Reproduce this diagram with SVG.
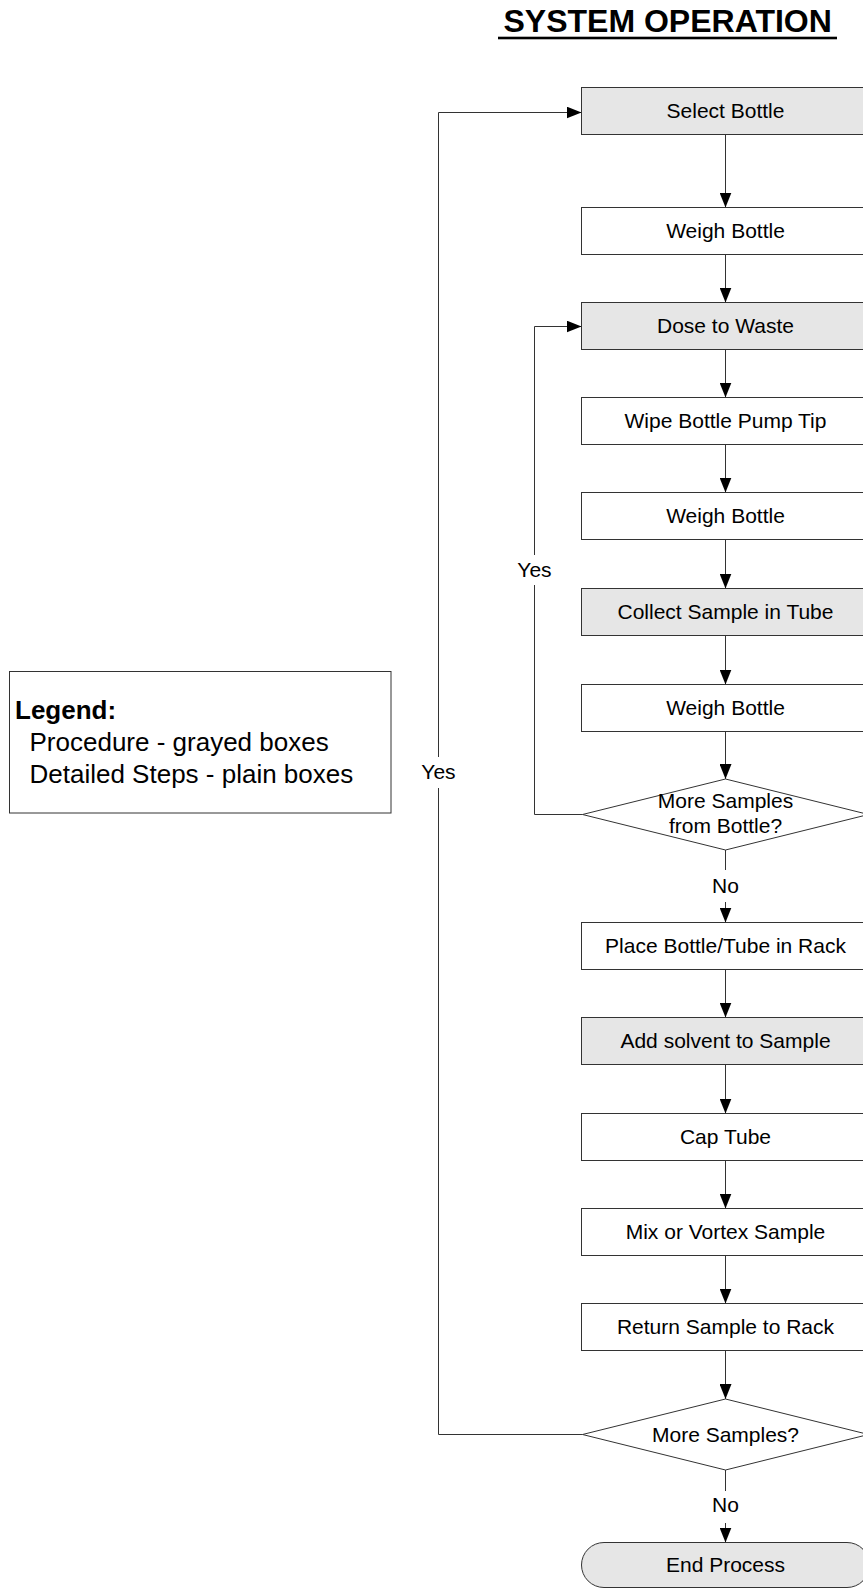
<svg xmlns="http://www.w3.org/2000/svg" width="863" height="1589" viewBox="0 0 863 1589">
<style>
text{font-family:"Liberation Sans",Arial,sans-serif;fill:#000}
.t{font-size:21px;text-anchor:middle}
.box{stroke:#333;stroke-width:1;fill:#fff}
.proc{fill:#e6e6e6}
.c{fill:none;stroke:#333;stroke-width:1}
.lg{font-size:26px}
</style>
<defs>
<marker id="ah" markerUnits="userSpaceOnUse" markerWidth="15" markerHeight="12" refX="15" refY="6" orient="auto">
<path d="M0,0 L15,6 L0,12 z" fill="#000"/>
</marker>
</defs>
<rect width="863" height="1589" fill="#fff"/>
<g id="title">
<text x="503.5" y="32" font-size="32" font-weight="bold">SYSTEM OPERATION</text>
<rect x="498" y="36.7" width="339" height="2.6" fill="#000"/>
</g>
<g id="legend">
<rect x="9.5" y="671.5" width="381.5" height="141.5" fill="#fff" stroke="#333"/>
<text class="lg" x="15" y="719" font-weight="bold">Legend:</text>
<text class="lg" x="29.5" y="751">Procedure - grayed boxes</text>
<text class="lg" x="29.5" y="783">Detailed Steps - plain boxes</text>
</g>
<g id="connectors">
<line class="c" x1="725.5" y1="134.5" x2="725.5" y2="207.5" marker-end="url(#ah)"/>
<line class="c" x1="725.5" y1="254.5" x2="725.5" y2="302.5" marker-end="url(#ah)"/>
<line class="c" x1="725.5" y1="349.5" x2="725.5" y2="397.5" marker-end="url(#ah)"/>
<line class="c" x1="725.5" y1="444.5" x2="725.5" y2="492.5" marker-end="url(#ah)"/>
<line class="c" x1="725.5" y1="539.5" x2="725.5" y2="588.5" marker-end="url(#ah)"/>
<line class="c" x1="725.5" y1="635.5" x2="725.5" y2="684.5" marker-end="url(#ah)"/>
<line class="c" x1="725.5" y1="731.5" x2="725.5" y2="779" marker-end="url(#ah)"/>
<line class="c" x1="725.5" y1="850" x2="725.5" y2="870"/>
<line class="c" x1="725.5" y1="902" x2="725.5" y2="922.5" marker-end="url(#ah)"/>
<line class="c" x1="725.5" y1="969.5" x2="725.5" y2="1017.5" marker-end="url(#ah)"/>
<line class="c" x1="725.5" y1="1064.5" x2="725.5" y2="1113.5" marker-end="url(#ah)"/>
<line class="c" x1="725.5" y1="1160.5" x2="725.5" y2="1208.5" marker-end="url(#ah)"/>
<line class="c" x1="725.5" y1="1255.5" x2="725.5" y2="1303.5" marker-end="url(#ah)"/>
<line class="c" x1="725.5" y1="1350.5" x2="725.5" y2="1399" marker-end="url(#ah)"/>
<line class="c" x1="725.5" y1="1470" x2="725.5" y2="1491"/>
<line class="c" x1="725.5" y1="1523" x2="725.5" y2="1542.5" marker-end="url(#ah)"/>
<polyline class="c" points="582.5,814.5 534.5,814.5 534.5,585"/>
<polyline class="c" points="534.5,555 534.5,326.5 581.5,326.5" marker-end="url(#ah)"/>
<polyline class="c" points="582.5,1434.5 438.5,1434.5 438.5,788"/>
<polyline class="c" points="438.5,757 438.5,112.5 581.5,112.5" marker-end="url(#ah)"/>
<text class="t" x="534.5" y="577">Yes</text>
<text class="t" x="438.5" y="779">Yes</text>
<text class="t" x="725.5" y="893">No</text>
<text class="t" x="725.5" y="1512">No</text>
</g>
<g id="n1"><rect class="box proc" x="581.5" y="87.5" width="288" height="47"/><text class="t" x="725.5" y="118">Select Bottle</text></g>
<g id="n2"><rect class="box" x="581.5" y="207.5" width="288" height="47"/><text class="t" x="725.5" y="238">Weigh Bottle</text></g>
<g id="n3"><rect class="box proc" x="581.5" y="302.5" width="288" height="47"/><text class="t" x="725.5" y="333">Dose to Waste</text></g>
<g id="n4"><rect class="box" x="581.5" y="397.5" width="288" height="47"/><text class="t" x="725.5" y="428">Wipe Bottle Pump Tip</text></g>
<g id="n5"><rect class="box" x="581.5" y="492.5" width="288" height="47"/><text class="t" x="725.5" y="523">Weigh Bottle</text></g>
<g id="n6"><rect class="box proc" x="581.5" y="588.5" width="288" height="47"/><text class="t" x="725.5" y="619">Collect Sample in Tube</text></g>
<g id="n7"><rect class="box" x="581.5" y="684.5" width="288" height="47"/><text class="t" x="725.5" y="715">Weigh Bottle</text></g>
<g id="d1"><polygon class="box" points="582.5,814.5 725.5,779 868.5,814.5 725.5,850"/><text class="t" x="725.5" y="808">More Samples</text><text class="t" x="725.5" y="833">from Bottle?</text></g>
<g id="n8"><rect class="box" x="581.5" y="922.5" width="288" height="47"/><text class="t" x="725.5" y="953">Place Bottle/Tube in Rack</text></g>
<g id="n9"><rect class="box proc" x="581.5" y="1017.5" width="288" height="47"/><text class="t" x="725.5" y="1048">Add solvent to Sample</text></g>
<g id="n10"><rect class="box" x="581.5" y="1113.5" width="288" height="47"/><text class="t" x="725.5" y="1144">Cap Tube</text></g>
<g id="n11"><rect class="box" x="581.5" y="1208.5" width="288" height="47"/><text class="t" x="725.5" y="1239">Mix or Vortex Sample</text></g>
<g id="n12"><rect class="box" x="581.5" y="1303.5" width="288" height="47"/><text class="t" x="725.5" y="1334">Return Sample to Rack</text></g>
<g id="d2"><polygon class="box" points="582.5,1434.5 725.5,1399 868.5,1434.5 725.5,1470"/><text class="t" x="725.5" y="1442">More Samples?</text></g>
<g id="end"><rect class="box proc" x="581.5" y="1542.5" width="288" height="45" rx="22.5" ry="22.5"/><text class="t" x="725.5" y="1572">End Process</text></g>
</svg>
